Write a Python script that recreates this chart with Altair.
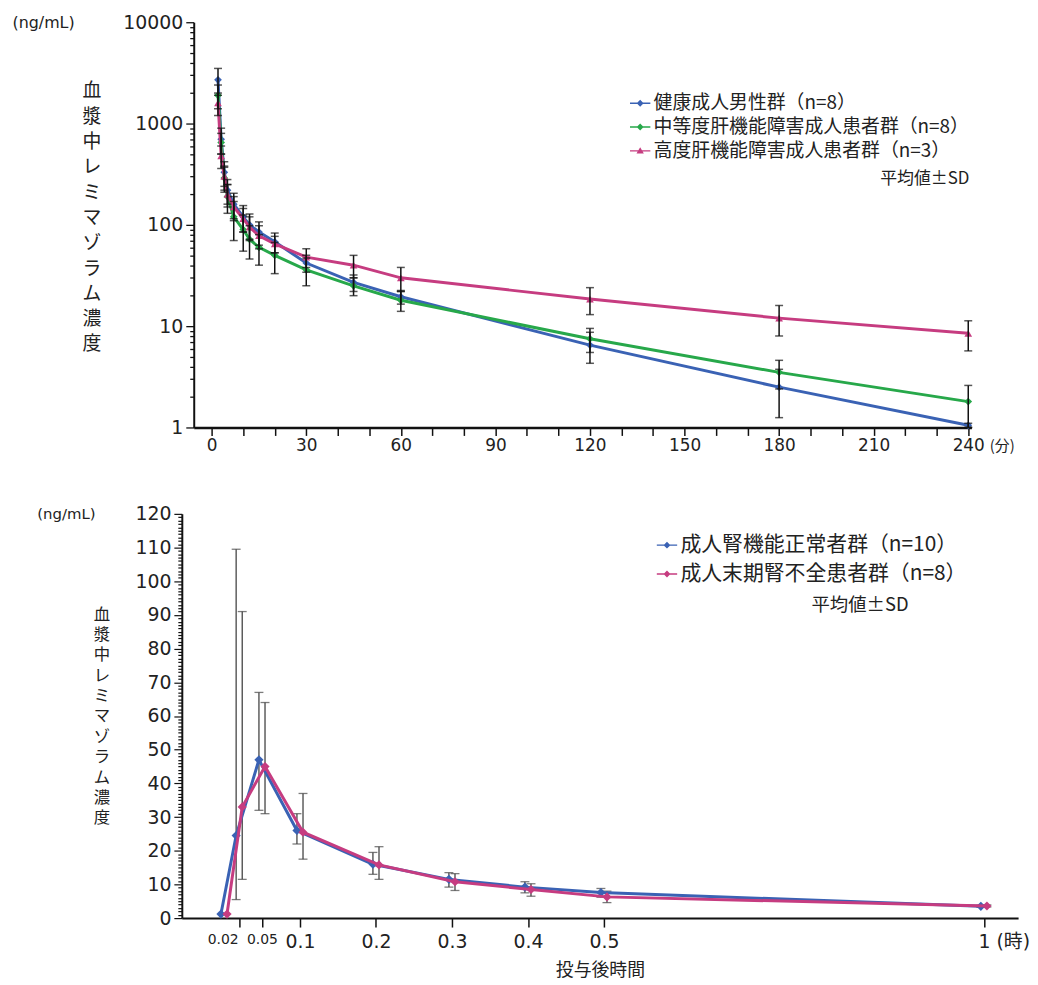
import altair as alt
import pandas as pd

JP = "Noto Sans CJK JP"
NUM = "DejaVu Sans"

# ---------------- top panel: minutes vs ng/mL (mean, SD) ----------------
top_groups = ["健康成人男性群（n=8）", "中等度肝機能障害成人患者群（n=8）", "高度肝機能障害成人患者群（n=3）"]
top_colors = ["#3A62B4", "#27A84A", "#C63C80"]
top_shapes = ["diamond", "diamond", "triangle-up"]
top_times = [2, 3, 4, 5, 7, 10, 12, 15, 20, 30, 45, 60, 120, 180, 240]
top_healthy_mean = [2700, 700, 330, 220, 160, 120, 100, 85, 68, 42, 27, 19.5, 6.5, 2.5, 1.05]
top_healthy_sd = [800, 200, 90, 60, 45, 35, 28, 22, 15, 8, 5, 3, 2.2, 1.25, 0.05]
top_moderate_mean = [1900, 650, 290, 190, 120, 90, 72, 60, 50, 36, 25, 18, 7.5, 3.5, 1.8]
top_moderate_sd = [500, 150, 80, 60, 50, 35, 26, 20, 17, 11, 5, 4, 2.0, 1.1, 0.8]
top_severe_mean = [1600, 480, 300, 200, 150, 115, 95, 78, 65, 48, 40, 30, 18.5, 12, 8.5]
top_severe_sd = [400, 120, 80, 50, 40, 30, 25, 20, 12, 10, 10, 8, 5.5, 4.0, 2.8]

top_x_ticks = [0, 10, 20, 30, 40, 50, 60, 70, 80, 90, 100, 110, 120, 130, 140, 150,
               160, 170, 180, 190, 200, 210, 220, 230, 240]
top_y_labels = [1, 10, 100, 1000, 10000]
top_y_ticks = [1, 2, 3, 4, 5, 6, 7, 8, 9, 10, 20, 30, 40, 50, 60, 70, 80, 90,
               100, 200, 300, 400, 500, 600, 700, 800, 900,
               1000, 2000, 3000, 4000, 5000, 6000, 7000, 8000, 9000, 10000]

# ---------------- bottom panel: hours vs ng/mL (mean, lower, upper) ----------------
bot_groups = ["成人腎機能正常者群（n=10）", "成人末期腎不全患者群（n=8）"]
bot_colors = ["#3A62B4", "#C63C80"]
bot_dodge = [-0.004, 0.004]
bot_times = [0, 0.02, 0.05, 0.1, 0.2, 0.3, 0.4, 0.5, 1]
bot_normal_mean = [1.2, 24.5, 47, 26, 16, 11.5, 9.2, 7.6, 3.5]
bot_normal_lo = [1.2, 5.5, 32, 22, 13, 9.2, 7.5, 6.2, 3.2]
bot_normal_hi = [1.2, 109.5, 67, 31, 19.5, 13.5, 10.8, 8.8, 3.8]
bot_esrd_mean = [1.2, 33, 45, 25.5, 15.8, 10.8, 8.5, 6.3, 3.6]
bot_esrd_lo = [1.2, 11.5, 31, 17.5, 11.5, 8.2, 6.5, 4.6, 3.3]
bot_esrd_hi = [1.2, 91, 64, 37, 21.2, 13.2, 10.2, 8.0, 3.9]

bot_x_ticks = [0.02, 0.05, 0.1, 0.2, 0.3, 0.4, 0.5, 1]
bot_y_ticks = list(range(0, 121))

y_title = ["血", "漿", "中", "レ", "ミ", "マ", "ゾ", "ラ", "ム", "濃", "度"]

# legend symbols: short line with a marker in the middle
PATH_DIAMOND = "M-1,-0.07H1V0.07H-1Z M0,-0.34L0.34,0L0,0.34L-0.34,0Z"
PATH_TRIANGLE = "M-1,-0.07H1V0.07H-1Z M0,-0.36L0.36,0.26L-0.36,0.26Z"

# ---------------- build tables ----------------
rows = []
for g, m_list, s_list in zip(top_groups,
                             [top_healthy_mean, top_moderate_mean, top_severe_mean],
                             [top_healthy_sd, top_moderate_sd, top_severe_sd]):
    for t, m, s in zip(top_times, m_list, s_list):
        rows.append({"group": g, "t": t, "mean": m, "lo": m - s, "hi": m + s})
top_df = pd.DataFrame(rows)

rows = []
for g, d, m_list, lo_list, hi_list in zip(bot_groups, bot_dodge,
                                          [bot_normal_mean, bot_esrd_mean],
                                          [bot_normal_lo, bot_esrd_lo],
                                          [bot_normal_hi, bot_esrd_hi]):
    for t, m, lo, hi in zip(bot_times, m_list, lo_list, hi_list):
        rows.append({"group": g, "t": t, "dodge": d, "mean": m, "lo": lo, "hi": hi})
bot_df = pd.DataFrame(rows)


def make_legend(lx, ly, label_size, row_pad, title_text, title_size, title_pad,
                title_anchor, title_align):
    return alt.Legend(
        orient="none", legendX=lx, legendY=ly,
        title=title_text, titleOrient="bottom", titleAnchor=title_anchor, titleAlign=title_align,
        titleFont=JP, titleFontSize=title_size, titleFontWeight="normal", titleColor="#222",
        titlePadding=title_pad, labelFont=JP, labelFontSize=label_size, labelColor="#222",
        labelLimit=600, labelOffset=3, symbolSize=420, symbolStrokeWidth=0,
        rowPadding=row_pad, symbolOpacity=1,
    )


# ================= TOP PANEL =================
TOP_W, TOP_H = 795, 408
xs_top = alt.Scale(domain=[-5.7, 241], range=[12, 795], nice=False, zero=False)
ys_top = alt.Scale(type="log", domain=[1, 10000], nice=False)

x_axis_top = alt.Axis(
    values=top_x_ticks,
    labelExpr="datum.value % 30 == 0 ? format(datum.value, 'd') : ''",
    tickSize=8, tickWidth=1.5, tickColor="#111",
    domainColor="#111", domainWidth=2.5,
    labelFont=NUM, labelFontSize=17, labelColor="#222", labelPadding=2,
    grid=False,
    title="(分)", titleX=813, titleY=18, titleAlign="left", titleBaseline="middle",
    titleAngle=0, titleFont=JP, titleFontSize=15, titleFontWeight="normal", titleColor="#222",
)
y_axis_top_main = alt.Axis(
    values=top_y_ticks,
    labelExpr="indexof([1, 10, 100, 1000, 10000], datum.value) >= 0 ? format(datum.value, 'd') : ''",
    orient="left", offset=-12,
    tickSize={"condition": {"test": "indexof([1, 10, 100, 1000, 10000], datum.value) >= 0", "value": 8},
              "value": 4},
    tickWidth=1.3, tickColor="#111", domainColor="#111", domainWidth=2,
    labelFont=NUM, labelFontSize=19, labelColor="#222", labelPadding=3, grid=False,
    title="(ng/mL)", titleX=-183, titleY=0, titleAlign="left", titleBaseline="middle",
    titleAngle=0, titleFont=NUM, titleFontSize=16, titleFontWeight="normal", titleColor="#222",
)
y_axis_top_title = alt.Axis(
    values=top_y_labels, labels=False, ticks=False, domain=False, orient="left", offset=-12,
    grid=False,
    title=y_title, titleX=-103, titleY=60, titleAlign="center", titleBaseline="top",
    titleAngle=0, titleLineHeight=25.5, titleFont=JP, titleFontSize=19,
    titleFontWeight="normal", titleColor="#222",
)

top_base = alt.Chart(top_df)
top_layers = []
for i, (g, c, s) in enumerate(zip(top_groups, top_colors, top_shapes)):
    sub = top_base.transform_filter(alt.FieldEqualPredicate(field="group", equal=g))
    top_layers.append(sub.mark_line(strokeWidth=3, color=c).encode(
        x=alt.X("t:Q", scale=xs_top, axis=x_axis_top),
        y=alt.Y("mean:Q", scale=ys_top, axis=(y_axis_top_title if i == 0 else None)),
        order="t:Q",
    ))
    top_layers.append(sub.mark_point(shape=s, filled=True, size=60, opacity=1, color=c).encode(
        x=alt.X("t:Q", scale=xs_top, axis=x_axis_top),
        y=alt.Y("mean:Q", scale=ys_top, axis=None),
    ))
top_layers.append(top_base.mark_rule(color="#111", strokeWidth=1.5).encode(
    x=alt.X("t:Q", scale=xs_top, axis=x_axis_top),
    y=alt.Y("lo:Q", scale=ys_top, axis=y_axis_top_main),
    y2="hi:Q",
))
top_layers.append(top_base.transform_fold(["lo", "hi"], as_=["end", "val"]).mark_tick(
    color="#111", thickness=1.5, size=8, orient="horizontal"
).encode(
    x=alt.X("t:Q", scale=xs_top, axis=x_axis_top),
    y=alt.Y("val:Q", scale=ys_top, axis=None),
))
top_leg = make_legend(451, 71, 19, 3, "平均値±SD", 17, 10, "end", "right")
top_layers.append(top_base.transform_filter("false").mark_point(filled=True, opacity=1).encode(
    color=alt.Color("group:N", scale=alt.Scale(domain=top_groups, range=top_colors), legend=top_leg),
    shape=alt.Shape("group:N", scale=alt.Scale(domain=top_groups,
                                               range=[PATH_DIAMOND, PATH_DIAMOND, PATH_TRIANGLE]),
                    legend=top_leg),
))

top_chart = alt.layer(*top_layers).resolve_axis(y="independent").properties(
    width=TOP_W, height=TOP_H)

# ================= BOTTOM PANEL =================
BOT_W, BOT_H = 842, 407
xs_bot = alt.Scale(domain=[-0.0555, 1.045], nice=False, zero=False)
ys_bot = alt.Scale(domain=[0, 120], nice=False, zero=False)

x_axis_bot = alt.Axis(
    values=bot_x_ticks,
    labelExpr="datum.value == 1 ? '1 (時)' : format(datum.value, '~g')",
    labelFontSize={"condition": {"test": "datum.value < 0.08", "value": 14}, "value": 19},
    labelAlign={"condition": [{"test": "datum.value == 0.02", "value": "right"},
                              {"test": "datum.value == 1", "value": "left"}],
                "value": "center"},
    labelOffset={"condition": [{"test": "datum.value == 0.02", "value": -1},
                               {"test": "datum.value == 1", "value": -6}],
                 "value": 0},
    tickSize=9, tickWidth=1.5, tickColor="#111", domainColor="#111", domainWidth=2,
    labelFont=NUM + ", " + JP, labelColor="#222", labelPadding=6, grid=False,
    title="投与後時間", titleX=421, titleY=44, titleAlign="center", titleBaseline="top",
    titleFont=JP, titleFontSize=18, titleFontWeight="normal", titleColor="#222",
)
y_axis_bot_main = alt.Axis(
    values=bot_y_ticks,
    labelExpr="datum.value % 10 == 0 ? format(datum.value, 'd') : ''",
    orient="left",
    tickSize={"condition": {"test": "datum.value % 10 == 0", "value": 8}, "value": 4},
    tickWidth=1.2, tickColor="#111",
    domainColor="#111", domainWidth=2, labelFont=NUM, labelFontSize=19, labelColor="#222",
    labelPadding=3, grid=False,
    title="(ng/mL)", titleX=-146, titleY=0, titleAlign="left", titleBaseline="middle",
    titleAngle=0, titleFont=NUM, titleFontSize=15, titleFontWeight="normal", titleColor="#222",
)
y_axis_bot_title = alt.Axis(
    values=[0, 120], labels=False, ticks=False, domain=False, orient="left", grid=False,
    title=y_title, titleX=-81, titleY=93, titleAlign="center", titleBaseline="top",
    titleAngle=0, titleLineHeight=20.5, titleFont=JP, titleFontSize=16.5,
    titleFontWeight="normal", titleColor="#222",
)

bot_base = alt.Chart(bot_df).transform_calculate(tp="datum.t + datum.dodge")
bot_err_base = bot_base.transform_filter("datum.hi - datum.lo > 0.5")
bot_layers = [
    bot_err_base.mark_rule(color="#444", strokeWidth=1.3).encode(
        x=alt.X("tp:Q", scale=xs_bot, axis=x_axis_bot),
        y=alt.Y("lo:Q", scale=ys_bot, axis=y_axis_bot_main),
        y2="hi:Q",
    ),
    bot_err_base.transform_fold(["lo", "hi"], as_=["end", "val"]).mark_tick(
        color="#444", thickness=1.3, size=9, orient="horizontal"
    ).encode(
        x=alt.X("tp:Q", scale=xs_bot, axis=x_axis_bot),
        y=alt.Y("val:Q", scale=ys_bot, axis=None),
    ),
]
for i, (g, c) in enumerate(zip(bot_groups, bot_colors)):
    sub = bot_base.transform_filter(alt.FieldEqualPredicate(field="group", equal=g))
    bot_layers.append(sub.mark_line(strokeWidth=3, color=c).encode(
        x=alt.X("tp:Q", scale=xs_bot, axis=x_axis_bot),
        y=alt.Y("mean:Q", scale=ys_bot, axis=(y_axis_bot_title if i == 0 else None)),
        order="t:Q",
    ))
    bot_layers.append(sub.mark_point(shape="diamond", filled=True, size=85, opacity=1, color=c).encode(
        x=alt.X("tp:Q", scale=xs_bot, axis=x_axis_bot),
        y=alt.Y("mean:Q", scale=ys_bot, axis=None),
    ))
bot_leg = make_legend(478, 21, 21, 7, "平均値±SD", 18.5, 12, "middle", "left")
bot_layers.append(bot_base.transform_filter("false").mark_point(filled=True, opacity=1).encode(
    color=alt.Color("group:N", scale=alt.Scale(domain=bot_groups, range=bot_colors), legend=bot_leg),
    shape=alt.Shape("group:N", scale=alt.Scale(domain=bot_groups,
                                               range=[PATH_DIAMOND, PATH_DIAMOND]),
                    legend=bot_leg),
))

bot_chart = alt.layer(*bot_layers).resolve_axis(y="independent").properties(
    width=BOT_W, height=BOT_H)

chart = alt.vconcat(top_chart, bot_chart, spacing=52).resolve_scale(
    color="independent", shape="independent"
).resolve_legend(color="independent", shape="independent").properties(
    padding={"left": 4, "top": 2, "right": 0, "bottom": 0},
    background="white",
).configure_view(strokeOpacity=0)

chart.save("out.html", embed_options={"renderer": "svg", "actions": False})
